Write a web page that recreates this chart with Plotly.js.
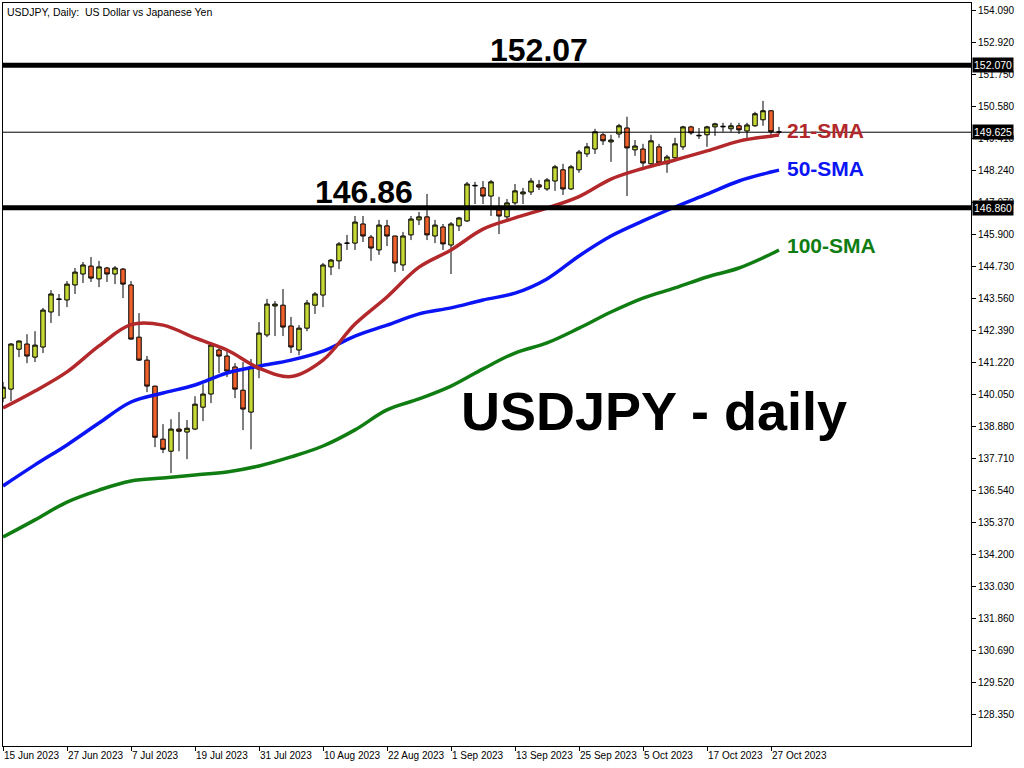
<!DOCTYPE html>
<html><head><meta charset="utf-8">
<script src="https://cdn.plot.ly/plotly-3.0.1.min.js"></script>
<style>html,body{margin:0;padding:0;background:#fff}#chart{width:1024px;height:768px}</style>
</head><body><div id="chart"></div>
<script>
// Daily USDJPY bars, 15 Jun 2023 .. 30 Oct 2023 (one per trading day)
const openP = [139.90,140.23,141.69,141.88,141.40,141.77,143.05,143.53,143.49,144.04,
144.44,144.73,144.26,144.66,144.44,144.62,144.04,142.13,141.29,140.34,
138.40,137.96,138.77,138.66,138.77,139.57,140.05,141.66,141.44,141.04,
140.19,139.39,140.96,142.21,143.27,143.30,142.54,141.66,142.46,143.30,
143.67,144.70,144.92,145.56,145.57,146.27,145.79,145.32,146.20,145.83,
144.77,145.87,146.42,146.53,145.83,146.16,145.50,146.20,146.38,147.66,
147.59,147.29,146.78,146.53,147.04,147.37,147.44,147.70,147.55,147.84,
148.25,147.55,148.25,148.83,149.01,149.53,149.27,149.56,149.78,148.98,
149.01,148.47,149.09,148.47,148.69,149.09,149.82,149.49,149.53,149.82,
149.82,149.75,149.86,149.67,149.86,150.08,150.41,149.64];
const highP = [140.49,141.91,142.01,142.24,142.35,143.20,143.85,143.71,144.18,144.66,
144.88,145.06,144.92,144.70,144.73,144.66,144.18,143.01,141.44,140.35,
138.95,139.13,139.39,139.10,139.97,140.41,141.95,141.73,141.62,141.18,
141.22,141.33,142.68,143.53,143.45,143.89,142.87,142.57,143.49,143.78,
144.84,144.99,145.61,145.87,146.56,146.56,145.87,146.42,146.42,145.84,
145.98,146.56,146.71,147.37,146.42,146.27,146.34,146.53,147.81,147.81,
147.84,147.88,147.26,147.18,147.73,147.59,147.95,147.88,147.95,148.43,
148.47,148.43,148.98,149.23,149.75,149.60,149.53,149.93,150.19,149.34,
149.20,149.53,149.20,148.80,149.42,149.86,149.86,149.78,149.86,149.97,
149.97,149.97,149.97,149.97,150.37,150.77,150.42,149.82];
const lowP = [139.75,139.79,141.40,141.18,141.22,141.55,142.65,142.90,143.23,143.71,
144.11,144.15,143.96,144.15,144.07,143.56,142.04,141.26,140.12,138.11,
137.89,137.16,137.96,137.67,138.73,139.06,139.72,140.82,140.67,139.90,
138.73,138.03,140.63,142.13,142.17,142.17,141.55,141.47,142.35,142.98,
143.23,144.40,144.62,145.32,145.32,145.61,144.92,145.14,145.46,144.51,
144.55,145.68,146.23,145.68,145.57,145.32,144.44,146.01,146.34,147.00,
147.00,146.56,145.90,146.42,146.97,147.00,147.33,147.51,147.48,147.48,
147.33,147.51,148.14,148.72,148.83,149.16,148.54,149.42,147.29,148.76,
148.36,148.36,148.39,148.14,148.58,148.98,149.53,149.38,149.09,149.49,
149.64,149.64,149.56,149.34,149.82,149.86,149.45,149.53];
const closeP = [140.30,141.88,141.99,141.44,141.84,143.12,143.71,143.51,144.07,144.51,
144.77,144.29,144.70,144.44,144.66,144.07,142.06,141.29,140.34,138.47,
138.03,138.77,138.69,138.80,139.68,140.05,141.84,141.44,140.89,140.23,
139.50,141.04,142.28,143.34,143.34,142.50,141.77,142.46,143.38,143.71,
144.77,144.95,145.54,145.57,146.34,145.83,145.39,146.23,145.83,144.84,
145.83,146.45,146.53,145.87,146.23,145.54,146.27,146.49,147.73,147.68,
147.29,147.81,146.56,147.04,147.48,147.44,147.84,147.62,147.88,148.36,
147.55,148.36,148.90,149.09,149.64,149.31,149.34,149.86,149.05,149.12,
148.50,149.31,148.50,148.72,149.20,149.82,149.60,149.51,149.82,149.93,
149.84,149.86,149.71,149.89,150.30,150.41,149.64,149.625];

// Moving averages read at every 4th bar
const smaBars = [0,4,8,12,16,20,24,28,32,36,40,44,48,52,56,60,64,68,72,76,80,84,88,92,96,97];
const sma21 = [139.54,140.16,140.86,141.81,142.59,142.57,142.10,141.66,141.00,140.69,
141.29,142.61,143.60,144.69,145.32,146.08,146.49,146.85,147.27,147.91,
148.30,148.61,148.94,149.30,149.48,149.52];
const sma50 = [136.69,137.46,138.19,138.99,139.76,140.09,140.38,140.82,141.07,141.29,
141.62,142.17,142.57,142.98,143.20,143.49,143.74,144.26,145.10,145.83,
146.38,146.89,147.36,147.84,148.17,148.24];
const sma100 = [134.82,135.45,136.10,136.54,136.87,136.98,137.09,137.20,137.42,137.75,
138.15,138.74,139.47,139.87,140.34,140.97,141.55,141.92,142.46,143.05,
143.56,143.93,144.33,144.66,145.17,145.32];

// Axis labels
const dateTickBars = [0,8,16,24,32,40,48,56,64,72,80,88,96];
const dateTickLabels = ['15 Jun 2023','27 Jun 2023','7 Jul 2023','19 Jul 2023','31 Jul 2023',
'10 Aug 2023','22 Aug 2023','1 Sep 2023','13 Sep 2023','25 Sep 2023','5 Oct 2023','17 Oct 2023','27 Oct 2023'];
const priceTicks = [128.35,129.52,130.69,131.86,133.03,134.20,135.37,136.54,137.71,138.88,140.05,
141.22,142.39,143.56,144.73,145.90,147.07,148.24,149.41,150.58,151.75,152.92,154.09];
const levelHigh = 152.07;
const levelLow = 146.86;
const lastPrice = 149.625;

const bars = openP.map((_, i) => i);

const traces = [
  {type:'candlestick', x:bars, open:openP, high:highP, low:lowP, close:closeP,
   increasing:{line:{color:'#000000', width:1}, fillcolor:'#c6d935'},
   decreasing:{line:{color:'#000000', width:1}, fillcolor:'#f0612b'},
   showlegend:false, hoverinfo:'skip'},
  {type:'scatter', mode:'lines', x:smaBars, y:sma100, line:{color:'#0f7d12', width:3.5, shape:'spline'}, showlegend:false, hoverinfo:'skip'},
  {type:'scatter', mode:'lines', x:smaBars, y:sma50, line:{color:'#0a14f5', width:3.5, shape:'spline'}, showlegend:false, hoverinfo:'skip'},
  {type:'scatter', mode:'lines', x:smaBars, y:sma21, line:{color:'#b3282a', width:3.5, shape:'spline'}, showlegend:false, hoverinfo:'skip'}
];

const boldFont = 'Liberation Sans, Arial, sans-serif';
const tickFont = {family:'Liberation Sans, Arial, sans-serif', size:10, color:'#000'};

const layout = {
  width:1024, height:768,
  margin:{l:3, r:53, t:3, b:22, pad:0},
  paper_bgcolor:'#ffffff', plot_bgcolor:'#ffffff',
  boxgap:0.2,
  showlegend:false,
  xaxis:{type:'linear', range:[0,121], rangeslider:{visible:false},
    tickmode:'array', tickvals:dateTickBars, ticktext:dateTickLabels,
    ticks:'outside', ticklen:4, tickcolor:'#000', tickwidth:1,
    ticklabelposition:'outside right', tickangle:0,
    tickfont:tickFont, showgrid:false, zeroline:false,
    showline:true, linecolor:'#000', linewidth:1, mirror:true},
  yaxis:{side:'right', range:[127.18, 154.35],
    tickmode:'array', tickvals:priceTicks, tickformat:'.3f',
    ticks:'outside', ticklen:4, tickcolor:'#000', tickwidth:1,
    tickfont:tickFont, showgrid:false, zeroline:false,
    showline:true, linecolor:'#000', linewidth:1, mirror:true},
  shapes:[
    {type:'line', xref:'paper', x0:0, x1:1, yref:'y', y0:levelHigh, y1:levelHigh, line:{color:'#000', width:5}},
    {type:'line', xref:'paper', x0:0, x1:1, yref:'y', y0:levelLow, y1:levelLow, line:{color:'#000', width:5}},
    {type:'line', xref:'paper', x0:0, x1:1, yref:'y', y0:lastPrice, y1:lastPrice, line:{color:'#000', width:1}}
  ],
  annotations:[
    {xref:'paper', yref:'paper', x:0, y:1, xanchor:'left', yanchor:'top', xshift:2, yshift:-1, showarrow:false,
     text:'USDJPY, Daily:  US Dollar vs Japanese Yen', font:{family:'Liberation Sans, Arial, sans-serif', size:10.5, color:'#000'}},
    {xref:'paper', x:1, xanchor:'left', xshift:1, yref:'y', y:levelHigh, yanchor:'middle', showarrow:false,
     text:levelHigh.toFixed(3), bgcolor:'#000', borderpad:1, font:{family:'Liberation Sans, Arial, sans-serif', size:10.5, color:'#fff'}},
    {xref:'paper', x:1, xanchor:'left', xshift:1, yref:'y', y:lastPrice, yanchor:'middle', showarrow:false,
     text:lastPrice.toFixed(3), bgcolor:'#000', borderpad:1, font:{family:'Liberation Sans, Arial, sans-serif', size:10.5, color:'#fff'}},
    {xref:'paper', x:1, xanchor:'left', xshift:1, yref:'y', y:levelLow, yanchor:'middle', showarrow:false,
     text:levelLow.toFixed(3), bgcolor:'#000', borderpad:1, font:{family:'Liberation Sans, Arial, sans-serif', size:10.5, color:'#fff'}},
    {xref:'x', yref:'y', x:67, y:152.63, xanchor:'center', yanchor:'middle', showarrow:false,
     text:'<b>' + levelHigh.toFixed(2) + '</b>', font:{family:boldFont, size:32, color:'#000'}},
    {xref:'x', yref:'y', x:45.1, y:147.44, xanchor:'center', yanchor:'middle', showarrow:false,
     text:'<b>' + levelLow.toFixed(2) + '</b>', font:{family:boldFont, size:32, color:'#000'}},
    {xref:'x', yref:'y', x:81.4, y:139.43, xanchor:'center', yanchor:'middle', showarrow:false,
     text:'<b>USDJPY - daily</b>', font:{family:boldFont, size:54, color:'#000'}},
    {xref:'x', yref:'y', x:98, y:149.67, xanchor:'left', yanchor:'middle', xshift:-2, showarrow:false,
     text:'<b>21-SMA</b>', font:{family:boldFont, size:21, color:'#b3282a'}},
    {xref:'x', yref:'y', x:98, y:148.28, xanchor:'left', yanchor:'middle', xshift:-2, showarrow:false,
     text:'<b>50-SMA</b>', font:{family:boldFont, size:21, color:'#0a14f5'}},
    {xref:'x', yref:'y', x:98, y:145.50, xanchor:'left', yanchor:'middle', xshift:-2, showarrow:false,
     text:'<b>100-SMA</b>', font:{family:boldFont, size:21, color:'#0f7d12'}}
  ]
};

Plotly.newPlot('chart', traces, layout, {staticPlot:true, displayModeBar:false});
</script>
</body></html>
